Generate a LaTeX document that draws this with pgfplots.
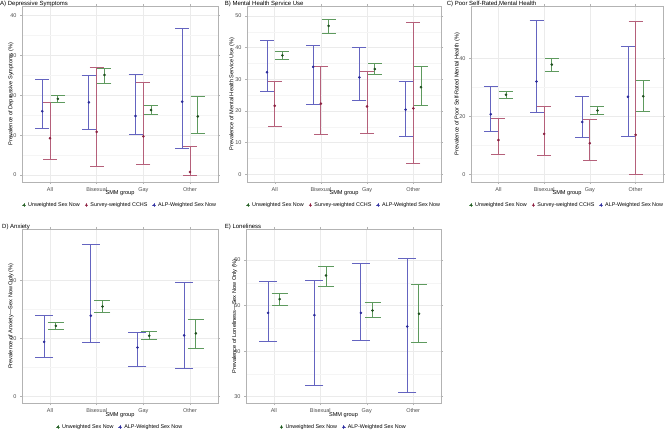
\documentclass[border=0pt]{standalone}
\usepackage{fontspec}
\setmainfont{Liberation Sans}
\usepackage{pgfplots}
\pgfplotsset{compat=1.18}
\usepackage{pgfplotstable}

\definecolor{gline}{HTML}{5E9A5E}
\definecolor{gpt}{HTML}{1F4F1F}
\definecolor{rline}{HTML}{B5607A}
\definecolor{rpt}{HTML}{8A2040}
\definecolor{bline}{HTML}{6464C0}
\definecolor{bpt}{HTML}{2A2A9A}
\definecolor{boxgray}{HTML}{B3B3B3}
\definecolor{gridmaj}{HTML}{EBEBEB}
\definecolor{gridmin}{HTML}{F5F5F5}
\definecolor{tickgray}{HTML}{4D4D4D}

\newcommand{\tickfont}{\fontsize{5.5}{6}\selectfont}
\newcommand{\labfont}{\fontsize{5.6}{6.5}\selectfont}
\newcommand{\legfont}{\fontsize{5.4}{6.5}\selectfont}
\newcommand{\titfont}{\fontsize{6}{7}\selectfont}

% c = category, b = ALP-weighted, r = survey-weighted CCHS, g = unweighted
\pgfplotstableread{
c by blo bhi ry rlo rhi gy glo ghi
1 16.0 11.7 24.0 9.2 3.8 18.1 19.1 18.1 20.0
2 18.2 11.3 24.9 10.8 2.1 26.9 25.1 23.0 26.8
3 14.8 10.2 25.2 9.7 2.7 23.1 16.3 15.1 17.5
4 18.4 6.7 36.7 0.75 0.0 7.2 14.7 10.5 19.7
}\tA
\pgfplotstableread{
c by blo bhi ry rlo rhi gy glo ghi
1 32.2 26.2 42.2 21.6 15.2 29.3 37.5 36.2 38.7
2 33.9 21.9 40.6 22.3 12.6 34.0 46.8 44.3 49.0
3 30.6 23.3 40.0 21.4 13.0 32.5 33.2 31.5 34.9
4 20.4 11.8 29.4 20.8 3.4 47.8 27.5 21.8 34.1
}\tB
\pgfplotstableread{
c by blo bhi ry rlo rhi gy glo ghi
1 20.7 14.8 30.2 11.8 6.9 19.3 27.4 26.2 28.6
2 32.0 21.4 53.1 13.9 6.4 23.3 37.8 35.5 39.9
3 18.0 12.8 26.8 10.7 4.8 18.9 22.0 20.6 23.3
4 26.7 13.2 43.9 13.6 0.0 52.6 26.9 21.5 32.4
}\tC
\pgfplotstableread{
c by blo bhi gy glo ghi
1 18.9 13.6 28.0 24.4 23.2 25.5
2 27.9 18.7 52.3 31.1 29.1 33.3
3 16.9 10.5 22.3 21.0 19.8 22.4
4 21.1 9.8 39.3 21.8 16.7 26.7
}\tD
\pgfplotstableread{
c by blo bhi gy glo ghi
1 48.4 42.1 55.2 51.4 50.1 52.7
2 47.9 32.5 55.5 56.6 54.2 58.6
3 48.4 42.4 59.3 48.9 47.3 50.6
4 45.4 30.9 60.3 48.2 42.0 54.6
}\tE

\pgfplotsset{
  panel/.style={
    scale only axis, anchor=south west,
    xmin=0.4, xmax=4.6, xtick={1,2,3,4}, xticklabels={All,Bisexual,Gay,Other},
    axis line style={draw=boxgray, line width=0.5pt},
    tick align=outside, major tick length=2pt,
    tick style={draw=boxgray, line width=0.4pt},
    minor tick length=0pt,
    xmajorgrids, ymajorgrids, yminorgrids, minor y tick num=1,
    major grid style={draw=gridmaj, line width=0.5pt},
    minor grid style={draw=gridmin, line width=0.3pt},
    ticklabel style={font=\tickfont, text=tickgray},
    label style={font=\labfont},
    xlabel={SMM group},
    xlabel style={at={(axis description cs:0.5,0)}, anchor=center, yshift=-11.5pt},
    title style={font=\titfont, anchor=north west, inner sep=0pt, at={(axis description cs:0,1)}, xshift=-22pt, yshift=-1pt},
    legend style={draw=none, fill=none, font=\legfont, at={(0.5,-0.131)}, anchor=center,
      /tikz/every even column/.append style={column sep=2.5pt}},
    legend columns=3,
    /pgf/number format/assume math mode=true,
  },
  ser/.style n args={3}{forget plot, only marks, mark=*, mark size=1.1pt,
    mark options={draw=#2, fill=#2},
    error bars/.cd, y dir=both, y explicit,
    error bar style={#1, line width=0.9pt},
    error mark options={#1, rotate=90, line width=0.9pt, mark size=#3}},
}
\newcommand{\legimg}[2]{\addlegendimage{legend image code/.code={%
  \draw[#1, line width=0.6pt] (1.8pt,-1.8pt)--(1.8pt,1.8pt);
  \draw[#1, line width=0.6pt] (0pt,0pt)--(3.6pt,0pt);
  \fill[#2] (1.8pt,0pt) circle (0.8pt);}}}

\begin{document}
\begin{tikzpicture}
\path[use as bounding box] (0pt,0pt) rectangle (667pt,431pt);

% ---------------- A
\begin{axis}[panel, at={(22pt,249pt)}, width=196pt, height=176pt,
  ymin=-1.76, ymax=42.4, ytick={0,10,20,30,40},
  ylabel={Prevalence of Depressive Symptoms (\%)},
  ylabel style={at={(axis description cs:-0.0561,0.5)}, anchor=center},
  title={A) Depressive Symptoms}]
\legimg{gline}{gpt}\addlegendentry{Unweighted Sex Now}
\legimg{rline}{rpt}\addlegendentry{Survey-weighted CCHS}
\legimg{bline}{bpt}\addlegendentry{ALP-Weighted Sex Now}
\addplot[ser={bline}{bpt}{7pt}] table[x expr=\thisrow{c}-0.1667, y=by, y error plus expr=\thisrow{bhi}-\thisrow{by}, y error minus expr=\thisrow{by}-\thisrow{blo}] \tA;
\addplot[ser={rline}{rpt}{7pt}] table[x expr=\thisrow{c}, y=ry, y error plus expr=\thisrow{rhi}-\thisrow{ry}, y error minus expr=\thisrow{ry}-\thisrow{rlo}] \tA;
\addplot[ser={gline}{gpt}{7pt}] table[x expr=\thisrow{c}+0.1667, y=gy, y error plus expr=\thisrow{ghi}-\thisrow{gy}, y error minus expr=\thisrow{gy}-\thisrow{glo}] \tA;
\end{axis}

% ---------------- B
\begin{axis}[panel, at={(247pt,249pt)}, width=194pt, height=176pt,
  ymin=-2.43, ymax=53.1, ytick={0,10,20,30,40,50},
  ylabel={Prevalence of Mental Health Service Use (\%)},
  ylabel style={at={(axis description cs:-0.0773,0.5)}, anchor=center},
  title={B) Mental Health Service Use}, title style={xshift=-0.3pt}]
\legimg{gline}{gpt}\addlegendentry{Unweighted Sex Now}
\legimg{rline}{rpt}\addlegendentry{Survey-weighted CCHS}
\legimg{bline}{bpt}\addlegendentry{ALP-Weighted Sex Now}
\addplot[ser={bline}{bpt}{7pt}] table[x expr=\thisrow{c}-0.1667, y=by, y error plus expr=\thisrow{bhi}-\thisrow{by}, y error minus expr=\thisrow{by}-\thisrow{blo}] \tB;
\addplot[ser={rline}{rpt}{7pt}] table[x expr=\thisrow{c}, y=ry, y error plus expr=\thisrow{rhi}-\thisrow{ry}, y error minus expr=\thisrow{ry}-\thisrow{rlo}] \tB;
\addplot[ser={gline}{gpt}{7pt}] table[x expr=\thisrow{c}+0.1667, y=gy, y error plus expr=\thisrow{ghi}-\thisrow{gy}, y error minus expr=\thisrow{gy}-\thisrow{glo}] \tB;
\end{axis}

% ---------------- C
\begin{axis}[panel, at={(471pt,249pt)}, width=192pt, height=176pt,
  ymin=-2.65, ymax=58.0, ytick={0,20,40},
  ylabel={Prevalence of Poor Self-Rated Mental Health (\%)},
  ylabel style={at={(axis description cs:-0.0714,0.5)}, anchor=center},
  title={C) Poor Self-Rated Mental Health}, title style={xshift=-2.3pt}]
\legimg{gline}{gpt}\addlegendentry{Unweighted Sex Now}
\legimg{rline}{rpt}\addlegendentry{Survey-weighted CCHS}
\legimg{bline}{bpt}\addlegendentry{ALP-Weighted Sex Now}
\addplot[ser={bline}{bpt}{7pt}] table[x expr=\thisrow{c}-0.1667, y=by, y error plus expr=\thisrow{bhi}-\thisrow{by}, y error minus expr=\thisrow{by}-\thisrow{blo}] \tC;
\addplot[ser={rline}{rpt}{7pt}] table[x expr=\thisrow{c}, y=ry, y error plus expr=\thisrow{rhi}-\thisrow{ry}, y error minus expr=\thisrow{ry}-\thisrow{rlo}] \tC;
\addplot[ser={gline}{gpt}{7pt}] table[x expr=\thisrow{c}+0.1667, y=gy, y error plus expr=\thisrow{ghi}-\thisrow{gy}, y error minus expr=\thisrow{gy}-\thisrow{glo}] \tC;
\end{axis}

% ---------------- D
\begin{axis}[panel, at={(22pt,27.7pt)}, width=196pt, height=174.3pt,
  ymin=-2.3, ymax=57.8, ytick={0,20,40},
  ylabel={Prevalence of Anxiety—Sex Now Only (\%)},
  ylabel style={at={(axis description cs:-0.0561,0.5)}, anchor=center},
  title={D) Anxiety}, title style={xshift=2pt},
  legend style={at={(0.5,-0.136)}}, legend columns=2]
\legimg{gline}{gpt}\addlegendentry{Unweighted Sex Now}
\legimg{bline}{bpt}\addlegendentry{ALP-Weighted Sex Now}
\addplot[ser={bline}{bpt}{9pt}] table[x expr=\thisrow{c}-0.125, y=by, y error plus expr=\thisrow{bhi}-\thisrow{by}, y error minus expr=\thisrow{by}-\thisrow{blo}] \tD;
\addplot[ser={gline}{gpt}{8pt}] table[x expr=\thisrow{c}+0.125, y=gy, y error plus expr=\thisrow{ghi}-\thisrow{gy}, y error minus expr=\thisrow{gy}-\thisrow{glo}] \tD;
\end{axis}

% ---------------- E
\begin{axis}[panel, at={(246pt,27.7pt)}, width=195pt, height=174.3pt,
  ymin=28.55, ymax=66.8, ytick={30,40,50,60},
  ylabel={Prevalence of Loneliness—Sex Now Only (\%)},
  ylabel style={at={(axis description cs:-0.058,0.5)}, anchor=center},
  title={E) Loneliness}, title style={xshift=0.7pt},
  legend style={at={(0.5,-0.136)}}, legend columns=2]
\legimg{gline}{gpt}\addlegendentry{Unweighted Sex Now}
\legimg{bline}{bpt}\addlegendentry{ALP-Weighted Sex Now}
\addplot[ser={bline}{bpt}{9pt}] table[x expr=\thisrow{c}-0.125, y=by, y error plus expr=\thisrow{bhi}-\thisrow{by}, y error minus expr=\thisrow{by}-\thisrow{blo}] \tE;
\addplot[ser={gline}{gpt}{8pt}] table[x expr=\thisrow{c}+0.125, y=gy, y error plus expr=\thisrow{ghi}-\thisrow{gy}, y error minus expr=\thisrow{gy}-\thisrow{glo}] \tE;
\end{axis}
\end{tikzpicture}
\end{document}
